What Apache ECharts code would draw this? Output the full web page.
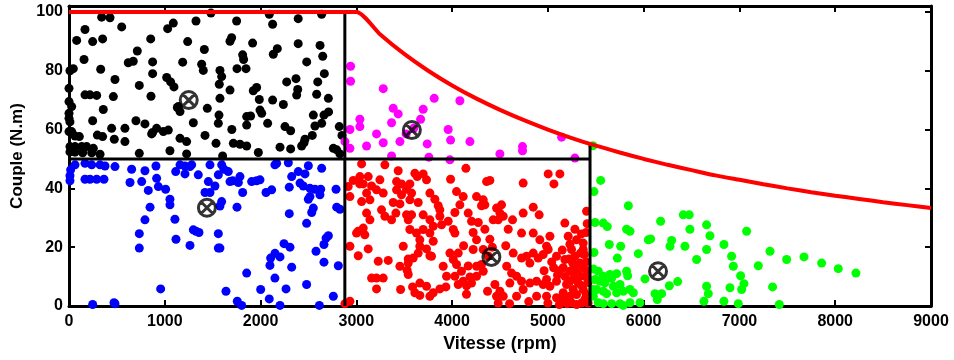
<!DOCTYPE html>
<html>
<head>
<meta charset="utf-8">
<script src="https://cdn.jsdelivr.net/npm/echarts@6/dist/echarts.min.js"></script>
<style>html,body{margin:0;padding:0;background:#fff;}#c{width:954px;height:360px;}</style>
</head>
<body>
<div id="c"></div>
<script>
// X ticks / Y ticks
const xTicks = [0,1000,2000,3000,4000,5000,6000,7000,8000,9000];
const yTicks = [0,20,40,60,80,100];

// Cluster points [speed rpm, torque N.m]
const blackPts = [[341,98.2],[428,98],[550,94.9],[167,94],[80,90.3],[247,89.9],[351,90.8],[157,83.8],[45,80.7],[10,80],[331,80.5],[480,77],[619,82.7],[671,83.2],[713,86.7],[853,90.8],[1030,94.3],[1089,96.2],[1326,96.9],[1482,99.6],[1239,89.9],[1413,87.2],[1187,82.9],[873,83],[873,79],[1020,77.7],[1061,76.2],[1096,74.5],[734,75],[463,71.2],[167,71.8],[219,71.8],[289,71.6],[0,74],[0,69.5],[28,67.8],[358,66.8],[856,71.3],[1141,67.8],[1444,67.2],[1298,62.3],[1385,82.2],[1402,80.1],[1576,80.1],[1594,78],[1569,75.4],[1681,73.4],[1576,70.6],[1750,96.9],[1681,90],[1698,91.2],[1813,85.4],[1823,83.8],[1754,80.7],[1848,80.7],[1917,89.4],[2091,99.2],[2126,95.8],[2175,87.5],[2133,85.6],[2393,97.7],[2638,99.2],[2393,89.2],[2621,88.6],[2649,84.9],[2482,83],[2666,79],[2597,76.2],[2273,76.2],[2370,77.3],[2388,73.6],[2377,71.7],[2586,72],[2708,70.6],[1959,74.3],[1924,73.2],[1987,70.2],[1994,66.6],[2012,65.5],[2126,70],[2238,68.5],[1855,64.4],[1896,64.6],[1855,61.5],[2074,62.1],[2255,61],[2314,59.6],[1566,64.9],[1559,62.1],[2551,64.9],[2568,61.2],[2638,62.1],[2822,61],[2662,64.9],[1131,67.5],[1159,66.1],[699,63],[793,61.9],[873,59],[863,58.5],[915,60.4],[985,59.3],[1037,59.8],[584,60.4],[584,55.9],[445,60.4],[473,56.7],[247,63],[296,58.1],[351,57.6],[10,62.6],[28,59.3],[63,57.8],[108,57.6],[10,54.2],[63,54.2],[132,54.2],[184,54.2],[254,53.6],[10,52.4],[63,52.3],[143,52.1],[237,52.1],[324,51.6],[734,51.9],[1054,52.8],[1228,51.7],[1159,57],[1228,55.9],[1535,55.3],[1604,51],[1716,55.3],[1785,55],[1855,54.4],[1977,52.2],[2203,54],[2314,53.4],[2429,54.4],[2454,55.5],[2464,56.7],[2760,53.6],[2795,53.1],[2829,51.7],[0,65.5],[0,63.8],[0,59.3],[2710,66],[2540,58],[1420,58],[1700,60],[2850,58]];

const bluePts = [[17,46.3],[10,44.3],[10,42.6],[63,48],[167,48.5],[237,48],[324,48],[376,47.6],[167,43.1],[219,43.1],[289,43.1],[365,43.1],[480,47.4],[637,42],[654,46.5],[793,46],[759,42.3],[828,39.3],[908,47.6],[915,43.4],[933,40.6],[1009,39.7],[1054,36.3],[1054,34.4],[1114,45.7],[1159,48],[1211,47.6],[1263,47.4],[1281,48],[1211,44.9],[1350,44.6],[1455,42.3],[1472,48],[1420,38.6],[1472,38.6],[1559,44.6],[1594,48],[1618,46.5],[1524,40.8],[1594,35.5],[1576,34],[1663,45.7],[1681,42.3],[1709,42.6],[1785,44],[1768,42],[1813,38.6],[1754,33.6],[1907,42.3],[1959,42.6],[1994,42.9],[2057,38.6],[2116,39.5],[2150,48],[2168,48.5],[2290,48.7],[2325,44],[2300,40.4],[2394,45.7],[2464,44.9],[2499,47.7],[2412,41.8],[2446,40.8],[2516,40],[2568,39.7],[2638,46.8],[2628,39.7],[2620,37.8],[2516,37.2],[2551,33.3],[2534,31.8],[2788,39.7],[2829,32.9],[2795,33.6],[2499,36.3],[2300,31.4],[793,29.3],[846,33.6],[734,24.6],[734,19.7],[1117,22.7],[1106,29.5],[1263,20.6],[1298,25.9],[1326,25.4],[1357,25],[1559,24.6],[1559,19.7],[1576,19.7],[2245,21.2],[2307,20],[2325,13.2],[2203,16.7],[2105,16.3],[2098,13.8],[2151,17.9],[2150,9.5],[2481,28.1],[2481,7.3],[2579,18.6],[2662,14.9],[2662,20.9],[2708,23.9],[2684,23.1],[2812,13.7],[2760,3.3],[1855,11.2],[1757,1.6],[1803,0.2],[2266,5.8],[2203,0.2],[2091,2.4],[2001,5.6],[1639,5],[957,5.8],[247,0.5],[480,0.8],[470,1.1],[2614,0.2]];

const magentaPts = [[2940,81.5],[2940,76.4],[3281,73.9],[3813,70.6],[4081,69.8],[3385,67.2],[3437,65.3],[3698,66.9],[3671,63.5],[3037,63.5],[3037,61],[2933,60],[3368,62.3],[3211,58.5],[3281,55.5],[3455,55.9],[3107,54.4],[3740,55.1],[3959,60],[3984,56.4],[4186,55.9],[2881,55.9],[2933,53.6],[3368,51],[3758,50.6],[3977,49.7],[4499,51.7],[4735,54.2],[4735,52.8],[5143,57.4],[5282,50.3],[3520,58.5],[3600,60.5]];

const redPts = [[3055,48.3],[3298,48],[3437,46],[3611,45.1],[3698,44.9],[3636,44],[3733,42.9],[4144,46.8],[4394,42.7],[4360,42.3],[5003,44.9],[5125,44.9],[5063,41.5],[4742,41.8],[3984,43.1],[2968,42.7],[3037,44],[3124,44],[2915,40.6],[2933,37.2],[3035,41.5],[3072,41.5],[3159,40.8],[3246,42.9],[3281,38.4],[3107,38.4],[3055,35.5],[3142,36.1],[3211,39.5],[3420,42.3],[3472,41.5],[3420,39.5],[3472,37.8],[3524,39.7],[3559,41.5],[3577,38.4],[3385,35.2],[3455,34.7],[3559,36.1],[3646,35.2],[3768,38.4],[3820,36.3],[3855,34.1],[3872,32.7],[4046,38.9],[4116,37.2],[4081,34.4],[4029,31.8],[4255,37.2],[4325,36.1],[4307,34.1],[4342,34.4],[4516,34.4],[4464,33.3],[4499,31.6],[4534,30.5],[4847,33.6],[4909,31],[4742,31.6],[4631,29.3],[4481,29.3],[4586,26.1],[4725,24.8],[4168,31.6],[4203,28.8],[4273,28.4],[4342,26.1],[4429,29.3],[4394,22.7],[4220,25],[4255,22.5],[3959,28.8],[4012,26],[4029,24.8],[3872,30.5],[3890,27.6],[3698,31],[3768,29.3],[3803,27.1],[3698,26],[3768,24.8],[3577,31],[3559,26],[3628,24.8],[3663,22.5],[3524,31],[3542,29.3],[3263,32.7],[3298,30.5],[3368,29.3],[3413,31.6],[3107,31.6],[3142,29.3],[3072,26.5],[3020,25.4],[3002,24.8],[3089,24.2],[2933,20.3],[3124,19.4],[3020,17.1],[3229,15.2],[3333,15.5],[3159,9.5],[3211,9.5],[3211,5.8],[3462,5.6],[3542,14.6],[3542,10.7],[3542,16],[3587,6.5],[3663,7.8],[3611,4.5],[3733,6.7],[3768,3.3],[3803,4.5],[3663,3.6],[3490,20.3],[3663,20.3],[3733,19.4],[3768,17.1],[3594,16.3],[3646,18],[3803,22],[3785,16.9],[3977,18],[4064,18],[4012,15.8],[3935,6.5],[4046,14.1],[4098,11.8],[4029,10.1],[4064,7.3],[4116,8.4],[4186,9.9],[4168,13.6],[4151,6.9],[4203,7.8],[4255,10.1],[4255,13.5],[4307,14.1],[4325,11.8],[4220,19.2],[4325,19.2],[4377,17],[4447,7.3],[4464,3.3],[4499,5],[4534,3.3],[4481,1],[4621,11.2],[4603,7.8],[4673,10.1],[4725,8.4],[4742,5.6],[4673,3.3],[4638,18],[4725,16.3],[4777,16.9],[4812,14.6],[4847,18],[4899,16.3],[4951,17.5],[4812,7.8],[4882,8.4],[4951,7.3],[4986,9],[5021,6.7],[5090,8.4],[4882,3.3],[4986,3.3],[5090,2.8],[5160,2.2],[5160,4.5],[5003,19.2],[5090,16.9],[5177,15.8],[5160,13],[5230,11.8],[5177,28.2],[5282,26.1],[5212,23.7],[5299,22.5],[5369,21.4],[5369,19.2],[5404,32.2],[5247,19.2],[5282,16.9],[5334,14.6],[5369,13],[5282,12.4],[5386,10.1],[5317,7.8],[5369,5.6],[5299,3.9],[5386,2.2],[5230,3.3],[5264,5.6],[5195,7.3],[5334,10.1],[5230,8.4],[4916,22.5],[5021,23.7],[4986,20.3],[4847,24.8],[3907,13.5],[3942,10.1],[3872,5.8],[2933,1.6],[2881,0.8],[3455,13.5],[3531,12.1],[3281,9.5],[5400,15],[5410,12],[5420,8],[5400,4],[5420,1],[5350,1],[5300,0.5],[5250,1],[5200,0.8],[5380,17.5],[5340,18],[5310,11],[5260,14.5],[5220,16],[5400,25],[5410,28],[5350,24.5],[5180,10],[5120,12],[5060,13],[5100,10.5],[5350,7],[5270,9.5],[5150,19],[5040,15],[4960,12],[5230,21],[4570,13.5],[4560,20.5],[4420,20],[4120,20.5],[4150,4],[4370,5],[4600,0.8],[4800,1.5],[5000,1],[5120,0.5]];

const greenPts = [[5551,42.7],[5481,38.9],[5840,34.1],[5492,28.4],[5579,28.2],[5620,27],[5822,26.1],[5857,25.4],[6177,28.8],[6414,31],[6476,31],[6483,26.1],[6657,27.6],[6692,23.9],[7075,25.4],[5641,20.9],[5760,20.3],[5481,18.2],[5725,16.3],[5944,17.8],[6048,22.5],[6073,22.8],[6292,22.3],[6275,20.3],[6431,20.3],[6553,15.8],[6657,19.2],[6838,20.9],[6918,16.9],[6936,13.5],[7012,10.3],[7047,7.6],[7023,5.6],[6901,6.2],[6838,1.6],[6988,0.8],[7197,13.7],[7319,18.6],[7493,15.8],[7674,16.7],[7858,14.6],[8032,12.7],[8216,11.2],[7346,6.5],[7416,0.5],[6657,6.7],[6675,4.2],[6629,1.6],[6355,8.3],[6268,6.9],[6188,4.2],[6118,4.2],[6142,2.2],[6014,9.2],[5822,11.8],[5833,10.3],[5718,11],[5648,10.7],[5579,10.1],[5526,11.8],[5474,12.6],[5492,9],[5544,8.4],[5596,7.9],[5666,9.5],[5509,5.6],[5579,5],[5613,4.2],[5683,6.7],[5753,7.3],[5787,5],[5718,4.5],[5857,5.6],[5892,4.5],[5526,1.1],[5579,0.8],[5666,0.8],[5753,0.8],[5857,1.1],[5961,1.1],[5787,0.2],[5474,3.3],[5467,5.6],[5470,54.5]];

// Cluster centroids
const centroids = [[1250,70],[1440,33.4],[3580,59.8],[4410,16.7],[6150,11.8]];

// Maximum torque envelope
const envelope = [[0,100],[3000,100],[3250,92.3],[3500,85.7],[3750,80],[4000,75],[4250,70.6],[4500,66.7],[4750,63.2],[5000,60],[5250,57.1],[5500,54.5],[5750,52.2],[6000,50],[6250,48],[6500,46.2],[6750,44.4],[7000,42.9],[7250,41.4],[7500,40],[7750,38.7],[8000,37.5],[8250,36.4],[8500,35.3],[8750,34.3],[9000,33.3]];

// Region boundaries
const boundA = [[2880,0],[2880,100]];
const boundB = [[0,50],[5440,50]];
const boundC = [[5440,0],[5440,55]];

const FONT = 'Liberation Sans, Arial, sans-serif';
const chart = echarts.init(document.getElementById('c'));

function scatter(data, color){
  return {type:'scatter', data:data, symbol:'circle', symbolSize:9,
    itemStyle:{color:color, opacity:1}, z:2, silent:true};
}
function bline(data){
  return {type:'line', data:data, showSymbol:false, symbol:'none',
    lineStyle:{color:'#000', width:3}, z:4, silent:true};
}
const otimes = 'path://M0,10 A10,10 0 1,1 20,10 A10,10 0 1,1 0,10 Z M2.93,2.93 L17.07,17.07 M17.07,2.93 L2.93,17.07';

chart.setOption({
  animation:false,
  backgroundColor:'#fff',
  grid:{left:69, right:23, top:6, bottom:54},
  xAxis:[{
    type:'value', min:0, max:9000, interval:1000,
    name:'Vitesse (rpm)', nameLocation:'middle', nameGap:26,
    nameTextStyle:{fontFamily:FONT, fontWeight:'bold', fontSize:18, color:'#000'},
    axisLine:{show:true, onZero:false, lineStyle:{color:'#000', width:3}},
    axisTick:{show:true, inside:true, length:6, lineStyle:{color:'#000', width:2}},
    axisLabel:{fontFamily:FONT, fontWeight:'bold', fontSize:16, color:'#000', margin:8,
      formatter:function(v){return xTicks.indexOf(v)>=0 ? String(v) : '';}},
    splitLine:{show:false}
  },{
    type:'value', position:'top', min:0, max:9000, interval:1000,
    axisLine:{show:true, onZero:false, lineStyle:{color:'#000', width:3}},
    axisTick:{show:true, inside:true, length:6, lineStyle:{color:'#000', width:2}},
    axisLabel:{show:false}, splitLine:{show:false}
  }],
  yAxis:[{
    type:'value', min:0, max:102, interval:20,
    name:'Couple (N.m)', nameLocation:'middle', nameGap:40,
    nameTextStyle:{fontFamily:FONT, fontWeight:'bold', fontSize:17, color:'#000'},
    axisLine:{show:true, onZero:false, lineStyle:{color:'#000', width:3}},
    axisTick:{show:true, inside:true, length:6, lineStyle:{color:'#000', width:2}},
    axisLabel:{fontFamily:FONT, fontWeight:'bold', fontSize:16, color:'#000', margin:6,
      formatter:function(v){return yTicks.indexOf(v)>=0 ? String(v) : '';}},
    splitLine:{show:false}
  },{
    type:'value', position:'right', min:0, max:102, interval:20,
    axisLine:{show:true, onZero:false, lineStyle:{color:'#000', width:3}},
    axisTick:{show:true, inside:true, length:6, lineStyle:{color:'#000', width:2}},
    axisLabel:{show:false}, splitLine:{show:false}
  }],
  series:[
    scatter(blackPts,'#000000'),
    scatter(bluePts,'#0000ff'),
    scatter(magentaPts,'#ff00ff'),
    scatter(redPts,'#ff0000'),
    scatter(greenPts,'#00ff00'),
    bline(boundA), bline(boundB), bline(boundC),
    {type:'line', data:envelope, showSymbol:false, symbol:'none', smooth:0.2,
      lineStyle:{color:'#ff0000', width:4}, z:5, silent:true},
    {type:'scatter', data:centroids, symbol:otimes, symbolSize:17,
      itemStyle:{color:'rgba(0,0,0,0)', borderColor:'#000', borderWidth:3}, z:6, silent:true}
  ]
});
</script>
</body>
</html>
